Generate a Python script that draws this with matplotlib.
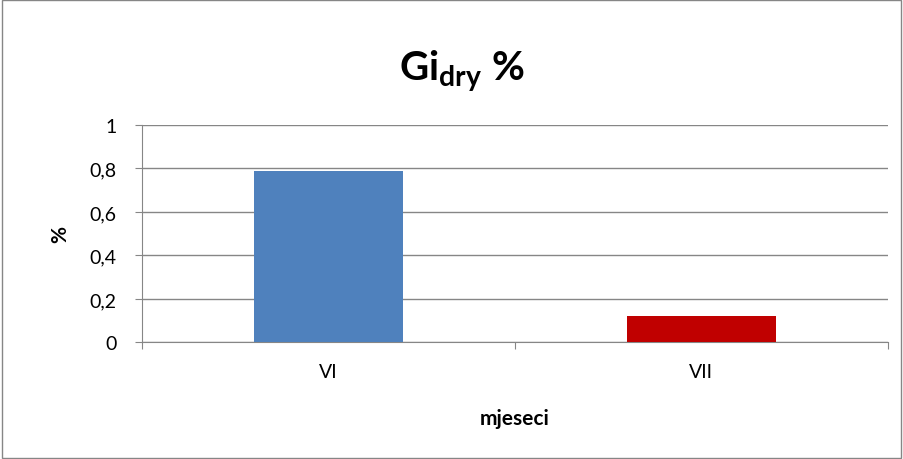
import matplotlib
matplotlib.use("Agg")
import matplotlib.pyplot as plt
from matplotlib.patches import Rectangle

months = ["VI", "VII"]
values = [0.79, 0.12]
colors = ["#4F81BD", "#C00000"]
yticks = [0, 0.2, 0.4, 0.6, 0.8, 1]

plt.rcParams["font.family"] = ["Lato", "DejaVu Sans"]
plt.rcParams["mathtext.fontset"] = "custom"
plt.rcParams["mathtext.rm"] = "Lato"
plt.rcParams["mathtext.bf"] = "Lato:bold"

fig = plt.figure(figsize=(9.04, 4.60), dpi=100)
fig.patches.append(Rectangle((0.002, 0.003), 0.995, 0.994, transform=fig.transFigure,
                             fill=False, edgecolor="#868686", linewidth=1))
ax = fig.add_axes([0.1568, 0.2533, 0.8252, 0.4728])

x = range(len(months))
ax.bar(x, values, width=0.4, color=colors, zorder=3)
ax.set_xlim(-0.5, len(months) - 0.5)
ax.set_ylim(0, 1)
ax.set_yticks(yticks)
ax.set_yticklabels([str(t).replace(".", ",") for t in yticks], fontsize=14)
ax.yaxis.grid(True, color="#868686", linewidth=1, zorder=0)

ax.set_xticks([-0.5, 0.5, 1.5])
ax.set_xticklabels([])
ax.set_xticks(list(x), minor=True)
ax.set_xticklabels(months, minor=True, fontsize=14)
ax.tick_params(axis="x", which="minor", length=0, pad=15)
ax.tick_params(axis="x", which="major", length=5, color="#868686", direction="out")
ax.tick_params(axis="y", length=5, color="#868686", pad=13)

for s in ["top", "right"]:
    ax.spines[s].set_visible(False)
for s in ["left", "bottom"]:
    ax.spines[s].set_color("#868686")

ax.set_xlabel("mjeseci", fontsize=15, fontweight="bold", labelpad=20)
ax.set_ylabel("%", fontsize=15, fontweight="bold", labelpad=14)
fig.text(0.511, 0.845, r"Gi$_{\mathbf{dry}}$ %", fontsize=29, fontweight="bold",
         ha="center", va="center")

fig.savefig("out.png", dpi=100)
